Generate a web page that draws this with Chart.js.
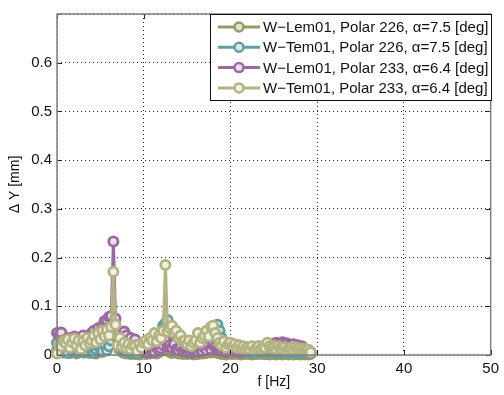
<!DOCTYPE html>
<html>
<head>
<meta charset="utf-8">
<script src="https://cdn.jsdelivr.net/npm/chart.js@4/dist/chart.umd.min.js"></script>
<style>
  html, body { margin: 0; padding: 0; background: #fff; }
  canvas { display: block; }
</style>
</head>
<body>
<canvas id="spectrum" width="504" height="395"></canvas>
<script>
// Frequency axis shared by all four runs [Hz]
var freq = [
  0, 0.25, 0.5, 0.75, 1, 1.25, 1.5, 1.75, 2, 2.25, 2.5, 2.75, 3, 3.25, 3.5, 3.75,
  4, 4.25, 4.5, 4.75, 5, 5.25, 5.5, 5.75, 6, 6.25, 6.5, 6.75, 7, 7.25, 7.5, 7.75,
  8, 8.25, 8.5, 8.75, 9, 9.25, 9.5, 9.75, 10, 10.25, 10.5, 10.75, 11, 11.25, 11.5, 11.75,
  12, 12.25, 12.5, 12.75, 13, 13.25, 13.5, 13.75, 14, 14.25, 14.5, 14.75, 15, 15.25, 15.5, 15.75,
  16, 16.25, 16.5, 16.75, 17, 17.25, 17.5, 17.75, 18, 18.25, 18.5, 18.75, 19, 19.25, 19.5, 19.75,
  20, 20.25, 20.5, 20.75, 21, 21.25, 21.5, 21.75, 22, 22.25, 22.5, 22.75, 23, 23.25, 23.5, 23.75,
  24, 24.25, 24.5, 24.75, 25, 25.25, 25.5, 25.75, 26, 26.25, 26.5, 26.75, 27, 27.25, 27.5, 27.75,
  28, 28.25, 28.5, 28.75, 29, 29.25
];

// Delta Y amplitude [mm] per run
var lem226 = [
  0.010, 0.005, 0.015, 0.008, 0.006, 0.012, 0.004, 0.010, 0.008, 0.003, 0.012, 0.006, 0.010, 0.005, 0.008, 0.004,
  0.006, 0.010, 0.003, 0.008, 0.012, 0.006, 0.015, 0.020, 0.025, 0.035, 0.060, 0.040, 0.020, 0.010, 0.006, 0.004,
  0.003, 0.006, 0.002, 0.005, 0.002, 0.004, 0.001, 0.003, 0.005, 0.002, 0.006, 0.003, 0.004, 0.008, 0.003, 0.006,
  0.008, 0.012, 0.020, 0.010, 0.006, 0.004, 0.008, 0.005, 0.003, 0.006, 0.002, 0.004, 0.002, 0.005, 0.003, 0.001,
  0.004, 0.002, 0.005, 0.003, 0.006, 0.004, 0.008, 0.005, 0.010, 0.006, 0.004, 0.003, 0.002, 0.004, 0.001, 0.003,
  0.003, 0.002, 0.004, 0.002, 0.003, 0.001, 0.002, 0.004, 0.002, 0.003, 0.001, 0.002, 0.003, 0.002, 0.004, 0.002,
  0.002, 0.003, 0.001, 0.003, 0.002, 0.001, 0.003, 0.002, 0.001, 0.002, 0.003, 0.001, 0.002, 0.001, 0.002, 0.003,
  0.001, 0.002, 0.001, 0.002, 0.001, 0.002
];

var tem226 = [
  0.025, 0.010, 0.018, 0.005, 0.012, 0.004, 0.015, 0.008, 0.010, 0.018, 0.006, 0.012, 0.005, 0.012, 0.008, 0.015,
  0.010, 0.004, 0.012, 0.018, 0.015, 0.008, 0.022, 0.010, 0.018, 0.030, 0.040, 0.045, 0.050, 0.040, 0.030, 0.012,
  0.008, 0.015, 0.005, 0.010, 0.004, 0.008, 0.012, 0.006, 0.010, 0.015, 0.020, 0.012, 0.025, 0.030, 0.035, 0.040,
  0.045, 0.060, 0.065, 0.072, 0.050, 0.035, 0.040, 0.030, 0.025, 0.020, 0.015, 0.018, 0.012, 0.008, 0.010, 0.014,
  0.018, 0.015, 0.022, 0.025, 0.030, 0.035, 0.040, 0.045, 0.048, 0.055, 0.062, 0.050, 0.035, 0.020, 0.018, 0.012,
  0.015, 0.010, 0.012, 0.008, 0.010, 0.012, 0.006, 0.009, 0.008, 0.005, 0.010, 0.007, 0.009, 0.006, 0.011, 0.008,
  0.006, 0.010, 0.007, 0.009, 0.008, 0.005, 0.009, 0.006, 0.007, 0.009, 0.005, 0.008, 0.006, 0.008, 0.004, 0.007,
  0.005, 0.007, 0.004, 0.006, 0.005, 0.004
];

var lem233 = [
  0.045, 0.040, 0.046, 0.030, 0.025, 0.035, 0.020, 0.030, 0.038, 0.025, 0.030, 0.020, 0.040, 0.028, 0.022, 0.035,
  0.045, 0.050, 0.035, 0.055, 0.048, 0.060, 0.070, 0.072, 0.078, 0.080, 0.233, 0.075, 0.035, 0.045, 0.030, 0.048,
  0.040, 0.030, 0.035, 0.025, 0.032, 0.020, 0.015, 0.010, 0.008, 0.012, 0.005, 0.010, 0.012, 0.006, 0.015, 0.010,
  0.014, 0.020, 0.030, 0.018, 0.020, 0.015, 0.022, 0.012, 0.010, 0.016, 0.008, 0.012, 0.006, 0.010, 0.004, 0.008,
  0.010, 0.006, 0.012, 0.008, 0.015, 0.010, 0.018, 0.012, 0.020, 0.016, 0.012, 0.010, 0.008, 0.012, 0.006, 0.010,
  0.012, 0.008, 0.014, 0.010, 0.006, 0.010, 0.008, 0.012, 0.010, 0.014, 0.012, 0.016, 0.012, 0.018, 0.014, 0.016,
  0.020, 0.016, 0.022, 0.018, 0.022, 0.025, 0.020, 0.024, 0.026, 0.022, 0.024, 0.020, 0.018, 0.022, 0.016, 0.020,
  0.015, 0.018, 0.012, 0.010, 0.008, 0.006
];

var tem233 = [
  0.003, 0.022, 0.018, 0.028, 0.024, 0.032, 0.015, 0.026, 0.034, 0.020, 0.030, 0.012, 0.028, 0.020, 0.035, 0.024,
  0.030, 0.040, 0.026, 0.045, 0.032, 0.050, 0.038, 0.052, 0.040, 0.058, 0.171, 0.062, 0.020, 0.035, 0.018, 0.025,
  0.015, 0.022, 0.012, 0.020, 0.018, 0.008, 0.022, 0.015, 0.025, 0.030, 0.022, 0.035, 0.030, 0.045, 0.028, 0.040,
  0.035, 0.050, 0.185, 0.048, 0.055, 0.060, 0.045, 0.050, 0.035, 0.040, 0.028, 0.030, 0.022, 0.030, 0.018, 0.025,
  0.030, 0.045, 0.025, 0.035, 0.040, 0.050, 0.038, 0.058, 0.060, 0.045, 0.035, 0.025, 0.020, 0.028, 0.015, 0.022,
  0.025, 0.018, 0.022, 0.015, 0.020, 0.014, 0.018, 0.012, 0.016, 0.012, 0.018, 0.010, 0.014, 0.018, 0.012, 0.016,
  0.015, 0.025, 0.018, 0.014, 0.016, 0.012, 0.018, 0.014, 0.012, 0.016, 0.010, 0.014, 0.015, 0.011, 0.016, 0.012,
  0.014, 0.010, 0.013, 0.009, 0.011, 0.006
];

var seriesLabels = [
  'W\u2212Lem01, Polar 226, \u03b1=7.5 [deg]',
  'W\u2212Tem01, Polar 226, \u03b1=7.5 [deg]',
  'W\u2212Lem01, Polar 233, \u03b1=6.4 [deg]',
  'W\u2212Tem01, Polar 233, \u03b1=6.4 [deg]'
];
var seriesValues = [lem226, tem226, lem233, tem233];
var lineColors = ['#999966', '#5f9ea0', '#9b6aa0', '#b2b282'];
var fillColors = ['#e2e2d4', '#d6e8e8', '#ebdeec', '#efefe2'];

var xTicks = { min: 0, max: 50, step: 10 };
var yTicks = { min: 0, max: 0.7, step: 0.1 };

function toPoints(values) {
  return values.map(function(v, i) {
    return { x: freq[i], y: v };
  });
}

// Box around the axes with inward tick marks, plus a boxed legend
var axesBox = {
  id: 'axesBox',
  afterDatasetsDraw: function(chart) {
    var ctx = chart.ctx;
    var a = chart.chartArea;
    var xs = chart.scales.x;
    var ys = chart.scales.y;
    ctx.save();

    ctx.strokeStyle = '#222';
    ctx.lineWidth = 1;
    ctx.beginPath();
    xs.ticks.forEach(function(t) {
      var px = Math.round(xs.getPixelForValue(t.value)) + 0.5;
      ctx.moveTo(px, a.bottom); ctx.lineTo(px, a.bottom - 5);
      ctx.moveTo(px, a.top); ctx.lineTo(px, a.top + 5);
    });
    ys.ticks.forEach(function(t) {
      var py = Math.round(ys.getPixelForValue(t.value)) + 0.5;
      ctx.moveTo(a.left, py); ctx.lineTo(a.left + 5, py);
      ctx.moveTo(a.right, py); ctx.lineTo(a.right - 5, py);
    });
    ctx.stroke();

    ctx.strokeStyle = '#808080';
    ctx.lineWidth = 1.5;
    ctx.strokeRect(a.left, a.top, a.right - a.left, a.bottom - a.top);

    // legend
    var lx = 210.5, ly = 14.5, lw = 281, lh = 86;
    ctx.fillStyle = '#fff';
    ctx.fillRect(lx, ly, lw, lh);
    ctx.strokeStyle = '#111';
    ctx.lineWidth = 1;
    ctx.strokeRect(lx, ly, lw, lh);

    ctx.font = '15px "Liberation Sans", Arial, sans-serif';
    ctx.textBaseline = 'middle';
    ctx.textAlign = 'left';
    seriesLabels.forEach(function(label, i) {
      var cy = 27 + i * 20.3;
      ctx.strokeStyle = lineColors[i];
      ctx.lineWidth = 3;
      ctx.beginPath();
      ctx.moveTo(218, cy); ctx.lineTo(260, cy);
      ctx.stroke();
      ctx.fillStyle = fillColors[i];
      ctx.lineWidth = 2.5;
      ctx.beginPath();
      ctx.arc(239, cy, 4.5, 0, Math.PI * 2);
      ctx.fill();
      ctx.stroke();
      ctx.fillStyle = '#111';
      ctx.fillText(label, 263, cy + 1);
    });
    ctx.restore();
  }
};

var datasets = seriesValues.map(function(values, i) {
  return {
    label: seriesLabels[i],
    data: toPoints(values),
    borderColor: lineColors[i],
    backgroundColor: fillColors[i],
    pointBackgroundColor: fillColors[i],
    pointBorderColor: lineColors[i],
    borderWidth: 3,
    pointRadius: 4.6,
    pointBorderWidth: 2.8,
    tension: 0,
    clip: false,
    order: 3 - i
  };
});

var tickFont = { family: '"Liberation Sans", Arial, sans-serif', size: 15 };
var titleFont = { family: '"Liberation Sans", Arial, sans-serif', size: 14 };

new Chart(document.getElementById('spectrum').getContext('2d'), {
  type: 'line',
  data: { datasets: datasets },
  options: {
    responsive: false,
    animation: false,
    layout: { padding: { top: 8, right: 6, left: 0, bottom: 0 } },
    plugins: {
      legend: { display: false },
      tooltip: { enabled: false }
    },
    scales: {
      x: {
        type: 'linear',
        min: xTicks.min,
        max: xTicks.max,
        ticks: { stepSize: xTicks.step, color: '#111', font: tickFont, padding: 5, maxRotation: 0 },
        grid: { color: '#222', lineWidth: 1, drawTicks: false },
        border: { display: false, dash: [1, 3] },
        title: { display: true, text: 'f [Hz]', color: '#111', font: titleFont, padding: { top: 0, bottom: 4 } },
        afterFit: function(scale) { scale.height = 40; }
      },
      y: {
        type: 'linear',
        min: yTicks.min,
        max: yTicks.max,
        ticks: {
          stepSize: yTicks.step,
          color: '#111',
          font: tickFont,
          padding: 5,
          callback: function(v) {
            if (v > 0.65) return '';
            return v === 0 ? '0' : v.toFixed(1);
          }
        },
        grid: { color: '#222', lineWidth: 1, drawTicks: false },
        border: { display: false, dash: [1, 3] },
        title: { display: true, text: '\u0394 Y [mm]', color: '#111', font: titleFont, padding: { top: 7, bottom: 0 } },
        afterFit: function(scale) { scale.width = 57; }
      }
    }
  },
  plugins: [axesBox]
});
</script>
</body>
</html>
